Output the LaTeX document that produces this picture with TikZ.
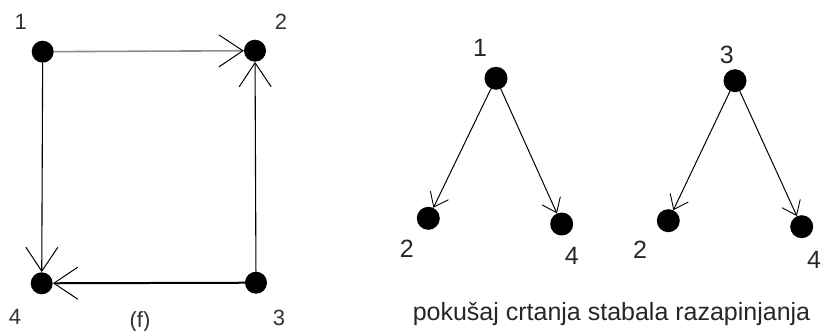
\documentclass[tikz,border=0pt]{standalone}
\usepackage{fontspec}
\setmainfont{Liberation Sans}
\usetikzlibrary{arrows.meta}
\begin{document}
\begin{tikzpicture}[x=1pt,y=-1pt,
  dot/.style={circle,fill=black,inner sep=0pt,minimum size=22pt},
  bigdot/.style={circle,fill=black,inner sep=0pt,minimum size=23pt},
  lbl/.style={inner sep=0pt,text=black!80,font=\fontsize{22}{26}\selectfont},
  rlbl/.style={inner sep=0pt,text=black!85,font=\fontsize{25}{29}\selectfont},
  bigarrow/.style={-{Straight Barb[length=24pt,width=32pt,line width=1pt,color=black]}},
  smallarrow/.style={-{Straight Barb[length=13pt,width=20pt,line width=0.9pt,color=black]}}]
\useasboundingbox (0,0) rectangle (824,331);
% left graph
\node[dot] (a1) at (42.7,51.7) {};
\node[dot] (a2) at (255,50.7) {};
\node[dot] (a3) at (256,282.7) {};
\node[dot] (a4) at (41.7,283.3) {};
\node[lbl] (la1) at (20.7,21.7) {1};
\node[lbl] (la2) at (281,21.7) {2};
\node[lbl] (la3) at (279,318) {3};
\node[lbl] (la4) at (15,316.7) {4};
\node[lbl] (lf) at (140,322) {(f)};
\draw[bigarrow,draw=black!45,line width=1.6pt] (a1) -- (a2);
\draw[bigarrow,line width=1.1pt] (a1) -- (a4);
\draw[bigarrow,line width=1.1pt] (a3) -- (a2);
\draw[bigarrow,line width=2pt] (a3) -- (a4);
% first tree
\node[bigdot] (b1) at (496,78.3) {};
\node[bigdot] (b2) at (428.3,218.3) {};
\node[bigdot] (b4) at (561.7,224) {};
\node[rlbl] (lb1) at (480,48.3) {1};
\node[rlbl] (lb2) at (406.7,248.3) {2};
\node[rlbl] (lb4) at (571.7,256) {4};
\draw[smallarrow,line width=1pt] (b1) -- (b2);
\draw[smallarrow,line width=1pt] (b1) -- (b4);
% second tree
\node[bigdot] (c3) at (735,80.7) {};
\node[bigdot] (c2) at (668.3,220.7) {};
\node[bigdot] (c4) at (801.7,226.7) {};
\node[rlbl] (lc3) at (726.7,55) {3};
\node[rlbl] (lc2) at (640,250) {2};
\node[rlbl] (lc4) at (814,260) {4};
\draw[smallarrow,line width=1pt] (c3) -- (c2);
\draw[smallarrow,line width=1pt] (c3) -- (c4);
% caption
\node[inner sep=0pt,text=black!85,font=\fontsize{25}{30}\selectfont,anchor=base] (cap) at (611.5,320) {pokušaj crtanja stabala razapinjanja};
\end{tikzpicture}
\end{document}
